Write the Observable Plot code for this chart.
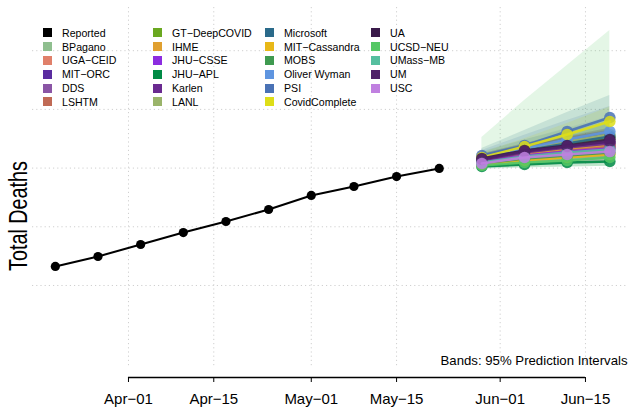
<!DOCTYPE html>
<html>
<head>
<meta charset="utf-8">
<script src="https://cdn.jsdelivr.net/npm/d3@7"></script>
<script src="https://cdn.jsdelivr.net/npm/@observablehq/plot@0.6"></script>
<style>
  html, body { margin: 0; padding: 0; background: #fff; }
  #wrap { position: relative; width: 628px; height: 408px; font-family: "Liberation Sans", Arial, sans-serif; }
  #legend { position: absolute; left: 43px; top: 26px; display: grid; grid-auto-flow: column;
    grid-template-rows: repeat(6, 13.8px); grid-template-columns: 110px 112px 106px auto;
    font-size: 10.6px; color: #000; }
  .item { display: flex; align-items: center; white-space: nowrap; }
  .sw { width: 9px; height: 9px; margin-right: 10px; flex: none; }
  #ytitle { position: absolute; left: 18px; top: 216px; font-size: 25px; line-height: 1; white-space: nowrap;
    color: #000; transform: translate(-50%, -50%) rotate(-90deg) scaleX(0.79); }
</style>
</head>
<body>
<div id="wrap"><div id="legend"></div><div id="ytitle"></div></div>
<script>
// ---- data ----
const reportedDates = ["2021-03-20","2021-03-27","2021-04-03","2021-04-10","2021-04-17","2021-04-24","2021-05-01","2021-05-08","2021-05-15","2021-05-22"];
const reportedValues = [10162, 10247, 10349, 10451, 10545, 10647, 10767, 10843, 10928, 10997];

const forecastDates = ["2021-05-29","2021-06-05","2021-06-12","2021-06-19"];

const models = ["BPagano","UGA\u2212CEID","MIT\u2212ORC","DDS","LSHTM","GT\u2212DeepCOVID","IHME","JHU\u2212CSSE","JHU\u2212APL","Karlen","LANL","Microsoft","MIT\u2212Cassandra","MOBS","Oliver Wyman","PSI","CovidComplete","UA","UCSD\u2212NEU","UMass\u2212MB","UM","USC"];
const modelColors = ["#8fbf8f","#e0806a","#5a2ca0","#8a55a5","#c06a55","#6aa820","#e0a030","#8c2ce0","#008a45","#6a2a90","#9ab46a","#2a6a8a","#e8b818","#3f9a50","#5f95e0","#4a72b5","#dede18","#3a1a4a","#55c865","#55bf9f","#502068","#c080e0"];

const medians = [
  [11065,11116,11150,11184],
  [11056,11107,11141,11175],
  [11073,11133,11175,11218],
  [11065,11124,11158,11193],
  [11056,11116,11150,11184],
  [11073,11141,11201,11261],
  [11065,11124,11167,11201],
  [11056,11107,11141,11167],
  [11014,11031,11048,11056],
  [11065,11133,11175,11210],
  [11082,11158,11227,11286],
  [11082,11150,11210,11269],
  [11031,11065,11090,11116],
  [11039,11082,11107,11133],
  [11090,11167,11244,11312],
  [11107,11193,11312,11431],
  [11090,11184,11286,11397],
  [11082,11150,11193,11244],
  [11022,11048,11065,11090],
  [11048,11099,11133,11158],
  [11073,11141,11184,11227],
  [11039,11090,11116,11141]
];
const lowers = [
  [11030,11070,11090,11110],
  [11020,11060,11080,11100],
  [11030,11070,11090,11110],
  [11020,11060,11080,11090],
  [11010,11040,11060,11070],
  [11030,11070,11100,11120],
  [11040,11090,11120,11140],
  [11020,11060,11080,11090],
  [10990,11000,11010,11015],
  [11030,11080,11100,11120],
  [11030,11080,11120,11150],
  [11014,11022,11031,11039],
  [11000,11030,11040,11050],
  [11010,11040,11060,11070],
  [11040,11100,11150,11200],
  [11065,11120,11200,11280],
  [11050,11120,11190,11260],
  [11040,11090,11120,11150],
  [11000,11005,11010,11015],
  [11010,11050,11070,11080],
  [11030,11080,11110,11140],
  [11000,11040,11050,11060]
];
const uppers = [
  [11100,11160,11210,11260],
  [11090,11160,11200,11250],
  [11110,11190,11260,11330],
  [11110,11190,11240,11300],
  [11100,11190,11250,11310],
  [11120,11210,11300,11400],
  [11090,11160,11210,11260],
  [11090,11150,11200,11250],
  [11040,11060,11090,11110],
  [11100,11190,11250,11300],
  [11130,11240,11330,11420],
  [11167,11320,11474,11618],
  [11060,11100,11140,11180],
  [11070,11130,11160,11200],
  [11140,11240,11340,11440],
  [11150,11280,11405,11525],
  [11130,11250,11380,11520],
  [11120,11210,11270,11340],
  [11261,11576,11874,12172],
  [11090,11150,11200,11240],
  [11110,11200,11260,11320],
  [11080,11140,11190,11230]
];

const xTickDates = ["2021-04-01","2021-04-15","2021-05-01","2021-05-15","2021-06-01","2021-06-15"];
const yGridValues = [10000, 10500, 11000, 11500, 12000];
const xDomain = ["2021-03-16T06:00Z", "2021-06-22T01:30Z"];
const yDomain = [9216, 12368];
const yTitle = "Total Deaths";
const caption = "Bands: 95% Prediction Intervals";

// ---- build tables ----
const parse = s => new Date(s.length === 10 ? s + "T00:00Z" : s);
const reported = reportedDates.map((d, i) => ({date: parse(d), value: reportedValues[i]}));
const forecast = [];
models.forEach((m, k) => forecastDates.forEach((d, i) => forecast.push({
  model: m, date: parse(d), median: medians[k][i], lo: lowers[k][i], hi: uppers[k][i]
})));
const xTicks = xTickDates.map(parse);
const fmtMonth = d3.utcFormat("%b"), fmtDay = d3.utcFormat("%d");

const marks = [
  Plot.ruleY(yGridValues, {stroke: "#cfcfcf", strokeDasharray: "1.2,3", strokeWidth: 1}),
  Plot.ruleX(xTicks, {stroke: "#cfcfcf", strokeDasharray: "1.2,3", strokeWidth: 1, insetBottom: 9}),
  Plot.areaY(forecast, {x: "date", y1: "lo", y2: "hi", z: "model", fill: "model", fillOpacity: 0.16}),
  Plot.line(reported, {x: "date", y: "value", stroke: "#000", strokeWidth: 2}),
  Plot.dot(reported, {x: "date", y: "value", r: 4.6, fill: "#000"})
];
models.forEach(m => {
  const sub = forecast.filter(d => d.model === m);
  marks.push(Plot.line(sub, {x: "date", y: "median", stroke: "model", strokeWidth: 2.6, strokeOpacity: 0.9}));
  marks.push(Plot.dot(sub, {x: "date", y: "median", fill: "model", r: 5.8, fillOpacity: 0.85}));
});
marks.push(
  Plot.ruleY([yDomain[0]], {x1: xTicks[0], x2: xTicks[xTicks.length - 1], stroke: "#000", strokeWidth: 1.6}),
  Plot.text([caption], {frameAnchor: "bottom-right", textAnchor: "end", lineAnchor: "middle", dx: -1, dy: -17, fontSize: 13.2, fill: "#000"})
);

const chart = Plot.plot({
  width: 628,
  height: 408,
  marginTop: 7,
  marginBottom: 31,
  marginLeft: 32,
  marginRight: 0,
  style: {fontFamily: "'Liberation Sans', Arial, sans-serif", fontSize: "15px", background: "#fff", color: "#000"},
  x: {type: "utc", domain: xDomain.map(parse), ticks: xTicks, tickFormat: d => fmtMonth(d) + "\u2212" + fmtDay(d),
      tickSize: 5, tickPadding: 11, label: null},
  y: {domain: yDomain, axis: null},
  color: {domain: models, range: modelColors},
  marks
});
document.getElementById("wrap").prepend(chart);
document.getElementById("ytitle").textContent = yTitle;

// ---- legend ----
const legendNames = ["Reported", ...models];
const legendColors = ["#000000", ...modelColors];
const legend = document.getElementById("legend");
legendNames.forEach((n, i) => {
  const it = document.createElement("div");
  it.className = "item";
  it.innerHTML = `<span class="sw" style="background:${legendColors[i]}"></span><span>${n}</span>`;
  legend.appendChild(it);
});
</script>
</body>
</html>
